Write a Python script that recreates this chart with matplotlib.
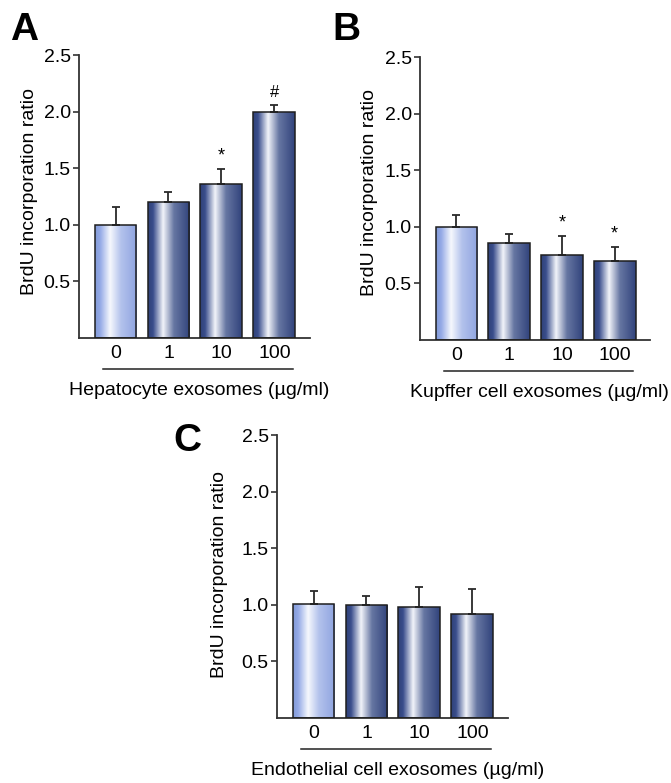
import numpy as np
import matplotlib
matplotlib.use("Agg")
from matplotlib import pyplot as plt
from matplotlib.colors import to_rgb

plt.rcParams['font.family'] = ['Liberation Sans', 'DejaVu Sans']

doses = ['0', '1', '10', '100']

hep_mean = [1.00, 1.20, 1.36, 2.00]
hep_err = [0.16, 0.09, 0.13, 0.06]
hep_marks = ['', '', '*', '#']

kup_mean = [1.00, 0.86, 0.75, 0.70]
kup_err = [0.10, 0.08, 0.17, 0.12]
kup_marks = ['', '', '*', '*']

endo_mean = [1.01, 1.00, 0.98, 0.92]
endo_err = [0.11, 0.08, 0.18, 0.22]
endo_marks = ['', '', '', '']

yticks = [0.5, 1.0, 1.5, 2.0, 2.5]


def make_gradient(stops, cols, n=200):
    t = np.linspace(0, 1, n)
    rgb = np.array([to_rgb(c) for c in cols])
    out = np.zeros((1, n, 3))
    for k in range(3):
        out[0, :, k] = np.interp(t, stops, rgb[:, k])
    return out


stops = [0.0, 0.12, 0.36, 0.62, 1.0]
grad_light = make_gradient(stops, ['#839ad8', '#93a9e6', '#f6f8fd', '#b3c2ec', '#8fa4e0'])
grad_dark = make_gradient(stops, ['#2f4178', '#3a4e8c', '#f2f4fa', '#6676a2', '#31437c'])


def panel(ax, means, errs, marks, xlabel, letter, ylab_xy):
    x = np.arange(len(means))
    bars = ax.bar(x, means, width=0.79, facecolor='none', edgecolor='#1e1e1e',
                  linewidth=1.1, zorder=3)
    for i, rect in enumerate(bars.patches):
        g = grad_light if i == 0 else grad_dark
        x0 = rect.get_x()
        im = ax.imshow(g, extent=[x0, x0 + rect.get_width(), 0, rect.get_height()],
                       aspect='auto', zorder=2, interpolation='bilinear')
        im.set_clip_path(rect)
    ax.errorbar(x, means, yerr=[np.zeros(len(means)), errs], fmt='none',
                ecolor='#2a2a2a', elinewidth=1.3, capsize=3, capthick=1.3, zorder=2.5)
    for xi, m, e, s in zip(x, means, errs, marks):
        if s:
            ax.text(xi, m + e + 0.04, s, ha='center', va='bottom', fontsize=12 if s == '#' else 13)

    ax.set_xlim(-0.69, 3.67)
    ax.set_ylim(0, 2.5)
    ax.set_yticks(yticks)
    ax.set_yticklabels(['%.1f' % v for v in yticks])
    ax.set_xticks(x)
    ax.set_xticklabels(doses)
    ax.tick_params(axis='x', length=0, pad=5, labelsize=14)
    ax.tick_params(axis='y', length=4, width=1.2, pad=2, labelsize=14, color='#333333')
    for side in ['top', 'right']:
        ax.spines[side].set_visible(False)
    for side in ['left', 'bottom']:
        ax.spines[side].set_linewidth(1.3)
        ax.spines[side].set_color('#333333')

    ax.set_ylabel('BrdU incorporation ratio', fontsize=14)
    ax.yaxis.set_label_coords(*ylab_xy)

    tr = ax.get_xaxis_transform()
    ax.plot([-0.24, 3.35], [-0.11, -0.11], transform=tr, color='#222222',
            linewidth=1.1, clip_on=False)
    ax.text(1.58, -0.185, xlabel, transform=tr, ha='center', va='center', fontsize=14)
    ax.text(letter[1], letter[2], letter[0], transform=ax.transAxes, fontsize=28,
            fontweight='bold', ha='left', va='center')


fig = plt.figure(figsize=(6.71, 7.83), dpi=100)
axA = fig.add_axes([0.1177, 0.5683, 0.344, 0.3614])
axB = fig.add_axes([0.626, 0.5658, 0.3428, 0.3614])
axC = fig.add_axes([0.4128, 0.0830, 0.344, 0.3614])

panel(axA, hep_mean, hep_err, hep_marks, 'Hepatocyte exosomes (\u00b5g/ml)',
      ('A', -0.30, 1.087), (-0.177, 0.518))
panel(axB, kup_mean, kup_err, kup_marks, 'Kupffer cell exosomes (\u00b5g/ml)',
      ('B', -0.38, 1.094), (-0.183, 0.522))
panel(axC, endo_mean, endo_err, endo_marks, 'Endothelial cell exosomes (\u00b5g/ml)',
      ('C', -0.447, 0.979), (-0.212, 0.508))

fig.savefig('out.png', dpi=100)
